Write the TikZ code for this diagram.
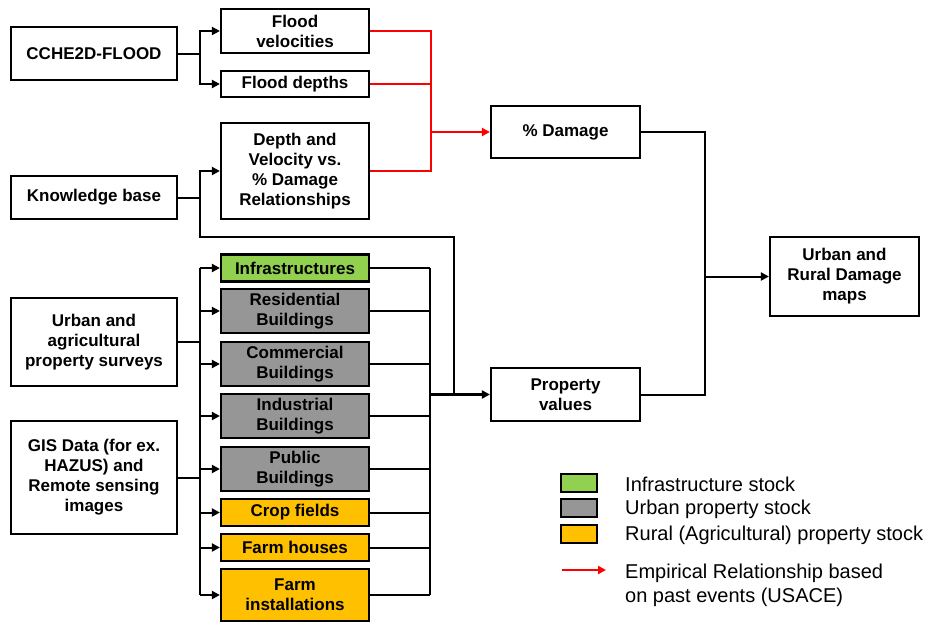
\documentclass[tikz,border=0pt]{standalone}
\usepackage{fontspec}
\setmainfont{Liberation Sans}
\usetikzlibrary{arrows.meta}
\definecolor{infgreen}{HTML}{92D050}
\definecolor{urbgrey}{HTML}{969696}
\definecolor{rurorange}{HTML}{FFC000}
\begin{document}
\begin{tikzpicture}[x=1pt,y=-1pt,
  bx/.style={draw, line width=2.2pt, inner sep=0pt, align=center,
    font=\bfseries\fontsize{17}{20}\selectfont},
  wl/.style={bx, minimum width=166},
  wm/.style={bx, minimum width=148},
  wr/.style={bx, minimum width=149},
  conn/.style={line width=2pt},
  arr/.style={conn, -{Triangle[length=8pt,width=8pt]}},
  rconn/.style={line width=2pt, red},
  rarr/.style={rconn, -{Triangle[length=8pt,width=8pt]}},
  leg/.style={anchor=west, inner sep=0pt, align=left, font=\fontsize{20}{24}\selectfont},
  legbox/.style={draw, line width=2pt, minimum width=36, minimum height=18, inner sep=0pt}
]
\useasboundingbox (0,0) rectangle (930,622);

% left column
\node[wl, minimum height=53] (cche) at (94,53.5) {CCHE2D-FLOOD};
\node[wl, minimum height=43] (kb) at (94,197.5) {Knowledge base};
\node[wl, minimum height=88] (urb) at (94,342) {Urban and\\agricultural\\property surveys};
\node[wl, minimum height=113] (gis) at (94,477.5) {GIS Data (for ex.\\HAZUS) and\\Remote sensing\\images};

% middle column
\node[wm, minimum height=44] (vel) at (295,31) {Flood\\velocities};
\node[wm, minimum height=26] (dep) at (295,84) {Flood depths};
\node[wm, minimum height=96] (dvr) at (295,171) {Depth and\\Velocity vs.\\\% Damage\\Relationships};
\node[wm, minimum height=27, fill=infgreen] (inf) at (295,268) {Infrastructures};
\node[wm, minimum height=44, fill=urbgrey] (res) at (295,311) {Residential\\Buildings};
\node[wm, minimum height=44, fill=urbgrey] (com) at (295,364) {Commercial\\Buildings};
\node[wm, minimum height=44, fill=urbgrey] (ind) at (295,416) {Industrial\\Buildings};
\node[wm, minimum height=44, fill=urbgrey] (pub) at (295,469) {Public\\Buildings};
\node[wm, minimum height=27, fill=rurorange] (crop) at (295,512.5) {Crop fields};
\node[wm, minimum height=27, fill=rurorange] (fh) at (295,547.5) {Farm houses};
\node[wm, minimum height=52, fill=rurorange] (fi) at (295,595) {Farm\\installations};

% right column
\node[wr, minimum height=52] (dmg) at (565.5,132) {\% Damage};
\node[wr, minimum height=53] (prop) at (565.5,394.5) {Property\\values};
\node[wr, minimum height=79] (maps) at (844.5,276.5) {Urban and\\Rural Damage\\maps};

% junction coordinates
\coordinate (lbx) at (199.5,0);
\coordinate (rbx) at (430,0);
\coordinate (rj) at (431,132);
\coordinate (pj) at (430,394.5);
\coordinate (kbj) at (199.5,197.5);
\coordinate (kbc) at (454,237);
\coordinate (mj) at (705,276.5);

% CCHE2D to velocities and depths
\draw[conn] (cche.east) -- (cche.east -| lbx);
\draw[arr] (cche.east -| lbx) |- (vel.west);
\draw[arr] (cche.east -| lbx) |- (dep.west);

% red empirical relationships
\draw[rconn] (vel.east) -| (rj);
\draw[rconn] (dep.east) -| (rj);
\draw[rconn] (dvr.east) -| (rj);
\draw[rarr] (rj) -- (dmg.west);

% knowledge base
\draw[conn] (kb.east) -- (kbj);
\draw[arr] (kbj) |- (dvr.west);
\draw[conn] (kbj) |- (kbc) -- (kbc |- pj);

% left bus from surveys and GIS
\draw[conn] (urb.east) -- (urb.east -| lbx);
\draw[conn] (gis.east) -- (gis.east -| lbx);
\draw[conn] (inf.west -| lbx) -- (fi.west -| lbx);
\foreach \n in {inf,res,com,ind,pub,crop,fh,fi}
  \draw[arr] (\n.west -| lbx) -- (\n.west);

% right bus to property values
\foreach \n in {inf,res,com,ind,pub,crop,fh,fi}
  \draw[conn] (\n.east) -- (\n.east -| rbx);
\draw[conn] (inf.east -| rbx) -- (fi.east -| rbx);
\draw[arr, line width=2.8pt] (pj) -- (prop.west);

% to damage maps
\draw[conn] (dmg.east) -| (mj);
\draw[conn] (prop.east) -| (mj);
\draw[arr] (mj) -- (maps.west);

% legend
\node[legbox, fill=infgreen] (lg1) at (578.5,482.5) {};
\node[legbox, fill=urbgrey] (lg2) at (578.5,508) {};
\node[legbox, fill=rurorange] (lg3) at (578.5,534) {};
\node[leg] (lt1) at (625,484) {Infrastructure stock};
\node[leg] (lt2) at (625,509.5) {Urban property stock};
\node[leg] (lt3) at (625,535) {Rural (Agricultural) property stock};
\coordinate (la1) at (562,570);
\coordinate (la2) at (606,570);
\draw[rarr] (la1) -- (la2);
\node[leg] (lt4) at (625,585.5) {Empirical Relationship based\\on past events (USACE)};
\end{tikzpicture}
\end{document}
